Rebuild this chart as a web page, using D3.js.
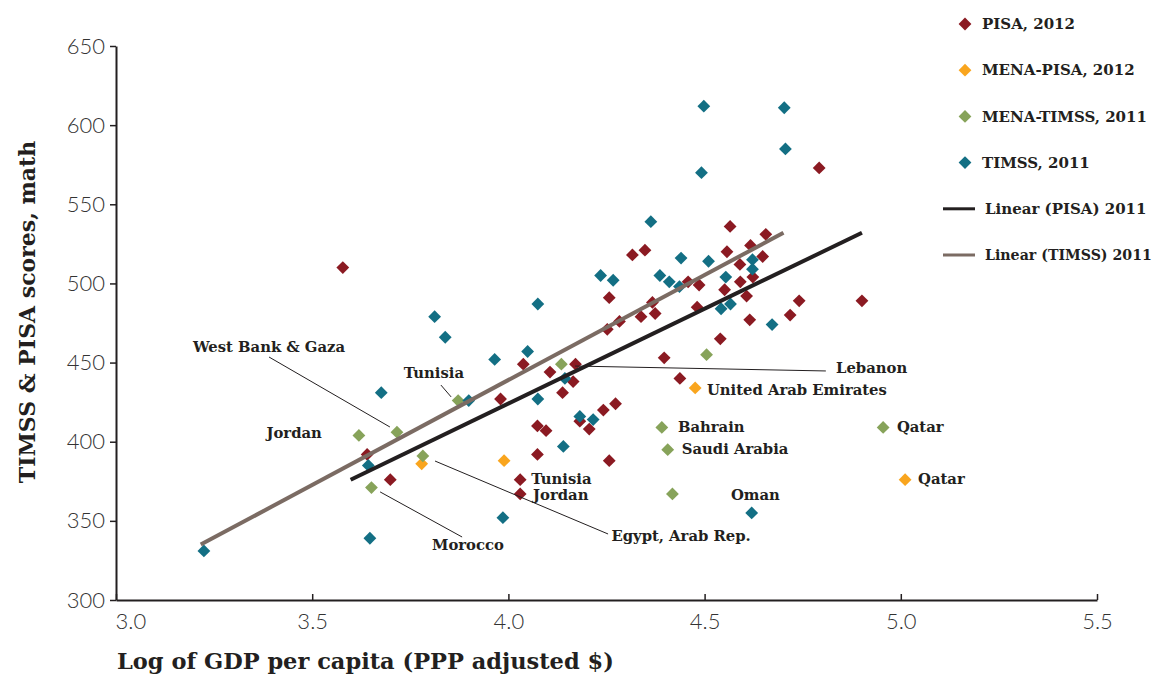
<!DOCTYPE html>
<html>
<head>
<meta charset="utf-8">
<script src="https://cdn.jsdelivr.net/npm/d3@7"></script>
<style>
    body { margin: 0; background: #fff; }
    svg { display: block; }
    .note { font-family: "DejaVu Serif", serif; font-weight: bold; font-size: 14.8px; fill: #231f20; }
    .axis-title { font-family: "DejaVu Serif", serif; font-weight: bold; fill: #231f20; }
    .tick text { font-family: Lato, sans-serif; font-weight: 300; font-size: 22px; fill: #333; }
</style>
</head>
<body>
<svg id="chart" width="1155" height="674"></svg>
<script>
// Values: [log GDP per capita, math score]
var pisa2012 = [
    [3.578, 510], [3.640, 392], [3.699, 376], [3.980, 427], [4.038, 449],
    [4.106, 444], [4.171, 449], [4.165, 438], [4.138, 431], [4.242, 420],
    [4.273, 424], [4.182, 413], [4.206, 408], [4.074, 410], [4.096, 407],
    [4.074, 392], [4.257, 388], [4.030, 376], [4.030, 367], [4.565, 536],
    [4.656, 531], [4.316, 518], [4.348, 521], [4.557, 520], [4.617, 524],
    [4.648, 517], [4.590, 512], [4.458, 501], [4.486, 499], [4.551, 496],
    [4.591, 501], [4.623, 504], [4.607, 492], [4.257, 491], [4.367, 488],
    [4.338, 479], [4.374, 481], [4.481, 485], [4.741, 489], [4.718, 480],
    [4.615, 477], [4.283, 476], [4.252, 471], [4.540, 465], [4.397, 453],
    [4.437, 440], [4.792, 573], [4.901, 489]
];

var menaPisa2012 = [
    [4.476, 434], [3.989, 388], [3.779, 386], [5.011, 376]
];

var menaTimss2011 = [
    [4.135, 449], [4.505, 455], [4.391, 409], [4.406, 395], [4.418, 367],
    [4.955, 409], [3.872, 426], [3.716, 406], [3.619, 404], [3.782, 391],
    [3.651, 371]
];

var timss2011 = [
    [4.363, 539], [4.440, 516], [4.510, 514], [4.622, 515], [4.622, 509],
    [4.235, 505], [4.267, 502], [4.386, 505], [4.410, 501], [4.436, 498],
    [4.554, 504], [4.075, 487], [4.542, 484], [4.566, 487], [4.672, 474],
    [3.965, 452], [4.049, 457], [4.144, 440], [4.075, 427], [4.182, 416],
    [4.216, 414], [4.140, 397], [4.498, 612], [4.703, 611], [4.706, 585],
    [4.492, 570], [3.812, 479], [3.839, 466], [3.676, 431], [3.899, 426],
    [3.643, 385], [3.647, 339], [3.224, 331], [3.986, 352], [4.620, 355]
];

// Trend line end points
var linearPisa = [[3.598, 376], [4.901, 532]];
var linearTimss = [[3.216, 335], [4.701, 532]];

var xTicks = [3.0, 3.5, 4.0, 4.5, 5.0, 5.5];
var yTicks = [300, 350, 400, 450, 500, 550, 600, 650];

// Country labels: text, text position, optional leader line (data units)
var notes = [
    { text: 'West Bank & Gaza', at: [3.196, 460], anchor: 'start', line: [[3.39, 453.5], [3.698, 409.3]] },
    { text: 'Tunisia', at: [3.81, 443.4], anchor: 'middle', line: [[3.828, 435.8], [3.854, 428.3]] },
    { text: 'Jordan', at: [3.454, 405.5], anchor: 'middle' },
    { text: 'Morocco', at: [3.897, 334.8], anchor: 'middle', line: [[3.673, 368.3], [3.882, 339.8]] },
    { text: 'Egypt, Arab Rep.', at: [4.44, 340.5], anchor: 'middle', line: [[3.813, 387.8], [4.254, 341.7]] },
    { text: 'Lebanon', at: [4.835, 446.6], anchor: 'start', line: [[4.17, 447.8], [4.809, 444.7]] },
    { text: 'United Arab Emirates', at: [4.506, 432.7], anchor: 'start' },
    { text: 'Bahrain', at: [4.432, 409.3], anchor: 'start' },
    { text: 'Saudi Arabia', at: [4.442, 395.4], anchor: 'start' },
    { text: 'Tunisia', at: [4.058, 376.5], anchor: 'start' },
    { text: 'Jordan', at: [4.063, 366.4], anchor: 'start' },
    { text: 'Oman', at: [4.567, 366.4], anchor: 'start' },
    { text: 'Qatar', at: [4.99, 409.3], anchor: 'start' },
    { text: 'Qatar', at: [5.044, 376.5], anchor: 'start' }
];

var colors = {
    pisa: '#8b1a22',
    menaPisa: '#f9a51e',
    menaTimss: '#87a35a',
    timss: '#136f84',
    linearPisa: '#231f20',
    linearTimss: '#7b6b63'
};

var svg = d3.select('#chart');

var x = d3.scaleLinear().domain([3, 5.5]).range([116, 1097]);
var y = d3.scaleLinear().domain([300, 650]).range([600, 46]);

// Axes
var yAxis = svg.append('g')
    .attr('transform', 'translate(116,0)')
    .call(d3.axisLeft(y).tickValues(yTicks).tickSize(6).tickSizeOuter(0).tickPadding(5));

var xAxis = svg.append('g')
    .attr('transform', 'translate(0,600)')
    .call(d3.axisBottom(x).tickValues(xTicks).tickSize(-6).tickSizeOuter(0)
        .tickPadding(13).tickFormat(d3.format('.1f')));

xAxis.selectAll('.tick text')
    .attr('text-anchor', function (d, i) {
        return i === 0 ? 'start' : 'middle';
    })
    .attr('dx', function (d, i) {
        return i === 0 ? -1 : 0;
    });

[xAxis, yAxis].forEach(function (axis) {
    axis.select('.domain').attr('stroke', '#231f20').attr('stroke-width', 2);
    axis.selectAll('.tick line').attr('stroke', '#231f20').attr('stroke-width', 1.5);
});

svg.append('text')
    .attr('class', 'axis-title')
    .attr('transform', 'translate(35,312) rotate(-90)')
    .attr('text-anchor', 'middle')
    .style('font-size', '22px')
    .text('TIMSS & PISA scores, math');

svg.append('text')
    .attr('class', 'axis-title')
    .attr('x', 117)
    .attr('y', 669)
    .style('font-size', '22.5px')
    .text('Log of GDP per capita (PPP adjusted $)');

// Diamond markers
var diamond = d3.symbol().type(d3.symbolSquare).size(82);

function drawSeries(data, color) {
    svg.append('g')
        .selectAll('path')
        .data(data)
        .enter()
        .append('path')
        .attr('d', diamond)
        .attr('transform', function (d) {
            return 'translate(' + x(d[0]) + ',' + y(d[1]) + ') rotate(45)';
        })
        .attr('fill', color);
}

drawSeries(pisa2012, colors.pisa);
drawSeries(menaPisa2012, colors.menaPisa);
drawSeries(menaTimss2011, colors.menaTimss);
drawSeries(timss2011, colors.timss);

// Trend lines
var line = d3.line()
    .x(function (d) { return x(d[0]); })
    .y(function (d) { return y(d[1]); });

svg.append('path')
    .attr('d', line(linearTimss))
    .attr('stroke', colors.linearTimss)
    .attr('stroke-width', 4)
    .attr('fill', 'none');

svg.append('path')
    .attr('d', line(linearPisa))
    .attr('stroke', colors.linearPisa)
    .attr('stroke-width', 4)
    .attr('fill', 'none');

// Country labels
var noteGroup = svg.append('g');

notes.forEach(function (n) {
    if (n.line) {
        noteGroup.append('path')
            .attr('d', line(n.line))
            .attr('stroke', '#231f20')
            .attr('stroke-width', 1)
            .attr('fill', 'none');
    }

    noteGroup.append('text')
        .attr('class', 'note')
        .attr('x', x(n.at[0]))
        .attr('y', y(n.at[1]))
        .attr('dy', '0.35em')
        .attr('text-anchor', n.anchor)
        .text(n.text);
});

// Legend
var legendItems = [
    { name: 'PISA, 2012', color: colors.pisa, kind: 'marker' },
    { name: 'MENA-PISA, 2012', color: colors.menaPisa, kind: 'marker' },
    { name: 'MENA-TIMSS, 2011', color: colors.menaTimss, kind: 'marker' },
    { name: 'TIMSS, 2011', color: colors.timss, kind: 'marker' },
    { name: 'Linear (PISA) 2011', color: colors.linearPisa, kind: 'line' },
    { name: 'Linear (TIMSS) 2011', color: colors.linearTimss, kind: 'line' }
];

var legend = svg.append('g')
    .selectAll('g')
    .data(legendItems)
    .enter()
    .append('g')
    .attr('transform', function (d, i) {
        return 'translate(0,' + (24 + i * 46.2) + ')';
    });

legend.each(function (d) {
    var g = d3.select(this);

    if (d.kind === 'marker') {
        g.append('path')
            .attr('d', diamond)
            .attr('transform', 'translate(965,0) rotate(45)')
            .attr('fill', d.color);
    } else {
        g.append('line')
            .attr('x1', 943)
            .attr('x2', 975)
            .attr('stroke', d.color)
            .attr('stroke-width', 3);
    }

    var label = g.append('text')
        .attr('class', 'note')
        .attr('x', d.kind === 'marker' ? 982 : 985)
        .attr('dy', '0.35em')
        .style('font-size', '15px')
        .text(d.name);

    // Shrink a label that would run past the right edge.
    var room = 1152 - (d.kind === 'marker' ? 982 : 985);
    var len = label.node().getComputedTextLength();
    if (len > room) {
        label.style('font-size', (15 * room / len).toFixed(2) + 'px');
    }
});
</script>
</body>
</html>
